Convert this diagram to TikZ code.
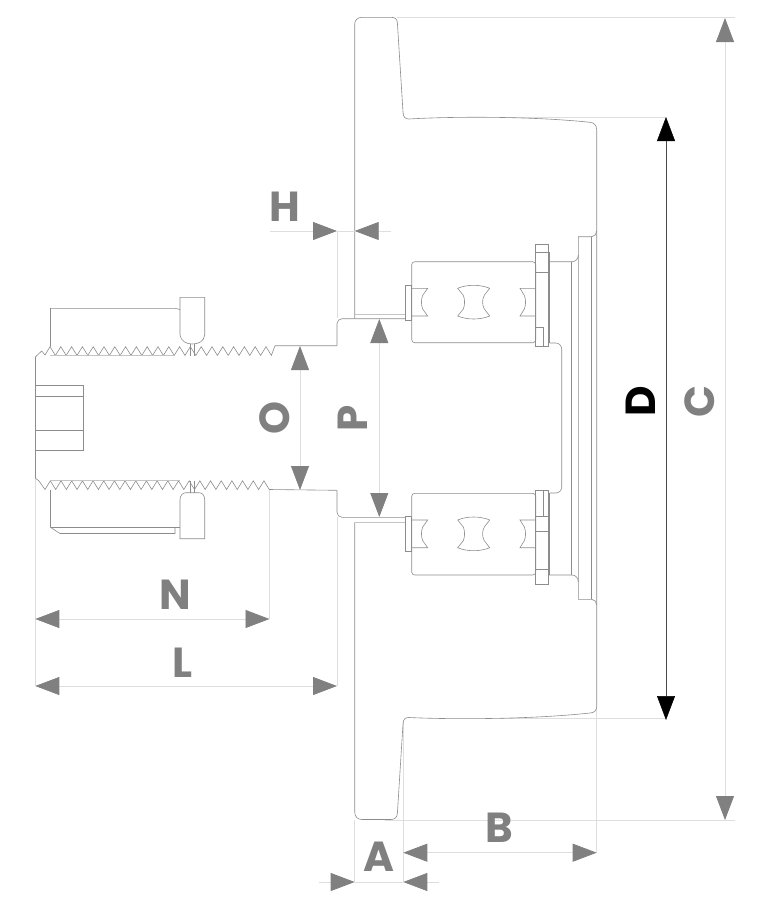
\documentclass[tikz,border=0pt]{standalone}
\usepackage{fontspec}
\setmainfont{Poppins}
\usetikzlibrary{arrows.meta}
\definecolor{dimgrey}{HTML}{808080}
\definecolor{extgrey}{HTML}{DEDEDE}
\definecolor{partgrey}{HTML}{8C8C8C}
\definecolor{softgrey}{HTML}{C4C4C4}
\tikzset{
  part/.style={draw=partgrey, line width=0.6pt},
  softpart/.style={draw=softgrey, line width=0.9pt},
  dimtip/.tip={Triangle[length=24pt,width=18pt,color=dimgrey]},
  blacktip/.tip={Triangle[length=24pt,width=18pt,color=black]},
  extline/.style={draw=extgrey, line width=0.8pt},
  dimline/.style={extline, dimtip-dimtip},
  sideline/.style={extline, -dimtip},
  dimlabel/.style={text=dimgrey, font=\fontsize{42}{42}\bfseries\selectfont, inner sep=0pt},
}
\newcommand{\racepair}[2]{% top and bottom y of the races
  \draw[part] (411.7,#1) -- (427.7,#1) -- (422.7,#1+7) .. controls (421,#1+11) and (421,#2-11) .. (422.7,#2-7) -- (427.7,#2) -- (411.7,#2);
  \draw[part] (535.7,#1) -- (520,#1) -- (524.3,#1+7) .. controls (526,#1+11) and (526,#2-11) .. (524.3,#2-7) -- (520,#2) -- (535.7,#2);
  \draw[part] (457.7,#1) .. controls (467,#1-4) and (480,#1-4) .. (489.7,#1)
    -- (484.3,#1+7) .. controls (482,#1+11) and (482,#2-11) .. (484.3,#2-7) -- (489.7,#2)
    .. controls (480,#2+4) and (467,#2+4) .. (457.7,#2)
    -- (463.3,#2-7) .. controls (465,#2-11) and (465,#1+11) .. (463.3,#1+7) -- cycle;
}
\begin{document}
\begin{tikzpicture}[x=1pt,y=-1pt]
  \useasboundingbox (0,0) rectangle (767,897);

  % Extension lines
  \draw[extline] (397,17) -- (735,17);
  \draw[extline] (500,117.5) -- (666,117.5);
  \draw[extline] (500,718.5) -- (666,718.5);
  \draw[extline] (385,820) -- (735,820);
  \draw[extline] (337,231) -- (337,318);
  \draw[extline] (337,517) -- (337,686);
  \draw[extline] (35,478) -- (35,686);
  \draw[extline] (269.3,490) -- (269.3,619);
  \draw[extline] (354.7,820) -- (354.7,882);
  \draw[extline] (403.3,722) -- (403.3,882);
  \draw[extline] (596.7,708) -- (596.7,852.7);

  % Flange and body
  \draw[part] (354.7,318.7) -- (354.7,24) .. controls (354.7,20) and (358,17.3) .. (362,17.3)
    -- (391,17.3) .. controls (395,17.3) and (397.2,19) .. (397.4,23)
    -- (403,112) .. controls (403.3,117) and (405,119) .. (409,119)
    .. controls (450,116.5) and (530,116) .. (590,122.3)
    .. controls (594,122.8) and (596.7,125) .. (596.7,130)
    -- (596.7,706) .. controls (596.7,711) and (594,712.7) .. (590,713)
    .. controls (530,719.5) and (450,719.5) .. (409,717.5)
    .. controls (405,717.5) and (403.3,719) .. (403,724)
    -- (397.4,813) .. controls (397.2,817) and (395,819.5) .. (391,819.5)
    -- (362,819.5) .. controls (358,819.5) and (354.7,817) .. (354.7,812)
    -- (354.7,522.3);

  % Plate at the right
  \draw[part] (596.7,231) .. controls (596.7,234) and (594.5,236.7) .. (591.7,236.7) -- (578.3,236.7) -- (578.3,599.3) -- (591.7,599.3) .. controls (594.5,599.3) and (596.7,602) .. (596.7,605);
  \draw[part] (591.7,236.7) -- (591.7,599.3);
  \draw[part] (571.7,262) -- (571.7,575);
  \draw[part] (548,261.7) -- (572,261.7) .. controls (575.5,261.7) and (578.3,259) .. (578.3,255);
  \draw[part] (548,575) -- (572,575) .. controls (575.5,575) and (578.3,578) .. (578.3,582);

  % Shaft
  \draw[part, rounded corners=6pt] (549.5,343) -- (561.7,343) -- (561.7,493) -- (549.5,493);
  \draw[part, rounded corners=5pt] (405,318.7) -- (337,318.7) -- (337,345.7);
  \draw[part, rounded corners=5pt] (405,517.3) -- (337,517.3) -- (337,490.3);
  \draw[softpart] (354.7,314.3) -- (405,314.3);
  \draw[softpart] (354.7,522.3) -- (405,522.3);

  % Thread
  \draw[part] (35.3,357) -- (41.7,351) -- (45,355) -- (50,346.7)
    \foreach \k in {0,...,19} { -- ++(5.4,8.7) -- ++(5.4,-8.7) }
    -- ++(5.4,8.7) -- (275,345.7) -- (337,345.7);
  \draw[part] (35.3,478) -- (39,481) -- (45,489.5)
    \foreach \k in {0,...,20} { -- ++(5.34,-8.7) -- ++(5.34,8.7) }
    -- (337,490.3);
  \draw[part] (35.3,357) -- (35.3,478);
  \draw[softpart] (50,355.5) -- (175,355.5);
  \draw[softpart] (50,480.7) -- (180,480.7);

  % Socket
  \draw[part] (35.3,385.7) rectangle (83.3,450);
  \draw[part] (35.3,396) -- (83.3,396);
  \draw[part] (35.3,430) -- (83.3,430);

  % Nut
  \draw[part] (50.5,346.7) -- (50.5,308.3) -- (175,308.3) -- (180,309.5);
  \draw[part] (50.5,490) -- (50.5,527.3) -- (60,533.5) -- (175,533.5) -- (175,527.3);
  \draw[part] (50.5,527.3) -- (180,527.3);
  \draw[part] (180,335) -- (180,297.3) -- (204.7,297.3) -- (204.7,335) .. controls (204,341) and (199,344) .. (192.3,344) .. controls (186,344) and (181,341) .. (180,335);
  \draw[part] (180,500) -- (180,538.7) -- (204.7,538.7) -- (204.7,500) .. controls (204.7,495) and (202,492.7) .. (199,492.7) -- (186,492.7) .. controls (183,492.7) and (180,495) .. (180,500);
  \foreach \xx in {190,194} {
    \draw[part] (\xx,344) -- (\xx,355.5);
    \draw[part] (\xx,480.7) -- (\xx,492.7);
  }

  % Upper bearing
  \draw[part, rounded corners=3pt] (411.7,261.7) rectangle (535.7,342.7);
  \draw[part] (405,285.3) rectangle (411.7,320);
  \racepair{288.3}{316}
  \draw[part] (535.7,244) rectangle (548,346);
  \draw[part] (535.7,252.3) -- (548,252.3);
  \draw[part] (535.7,272.7) -- (548,272.7);
  \draw[part] (535.7,327.3) -- (543.3,327.3) -- (543.3,346);
  \draw[part] (549.5,252) -- (549.5,343);

  % Lower bearing
  \draw[part, rounded corners=3pt] (411.7,493.3) rectangle (535.7,575);
  \draw[part] (405,516.7) rectangle (411.7,551);
  \racepair{520}{547.7}
  \draw[part] (535.7,490) rectangle (548,584);
  \draw[part] (535.7,490) -- (543.3,490) -- (543.3,516.7) -- (535.7,516.7);
  \draw[part] (535.7,516.7) -- (548,516.7);
  \draw[part] (535.7,531) -- (548,531);
  \draw[part] (535.7,569.3) -- (548,569.3);
  \draw[part] (549.5,493) -- (549.5,575);

  % Dimension points
  \coordinate (Dt) at (666,117);
  \coordinate (Db) at (666,720);
  \coordinate (Ct) at (725,18);
  \coordinate (Cb) at (725,820);
  \coordinate (Ot) at (300,346);
  \coordinate (Ob) at (300,490);
  \coordinate (Pt) at (379.3,319);
  \coordinate (Pb) at (379.3,517);
  \coordinate (Nl) at (35.3,619);
  \coordinate (Nr) at (269.5,619);
  \coordinate (Ll) at (35.3,686);
  \coordinate (Lr) at (337,686);
  \coordinate (Bl) at (403.3,852.7);
  \coordinate (Br) at (596.7,852.7);
  \coordinate (Al) at (354.7,882);
  \coordinate (Ar) at (403.3,882);
  \coordinate (Ao) at (319,882);
  \coordinate (Ae) at (439,882);
  \coordinate (Hl) at (337,231);
  \coordinate (Hr) at (354.7,231);
  \coordinate (Ho) at (270,231);
  \coordinate (He) at (391,231);

  % Dimension arrows
  \draw[draw=black!70, line width=0.5pt, blacktip-blacktip] (Dt) -- (Db);
  \draw[dimline] (Ct) -- (Cb);
  \draw[dimline] (Ot) -- (Ob);
  \draw[dimline] (Pt) -- (Pb);
  \draw[dimline] (Nl) -- (Nr);
  \draw[dimline] (Ll) -- (Lr);
  \draw[dimline] (Bl) -- (Br);
  \draw[extline] (Al) -- (Ar);
  \draw[sideline] (Ao) -- (Al);
  \draw[sideline] (Ae) -- (Ar);
  \draw[extline] (Hl) -- (Hr);
  \draw[sideline] (Ho) -- (Hl);
  \draw[sideline] (He) -- (Hr);

  % Labels
  \node[dimlabel] (labH) at (285,207) {H};
  \node[dimlabel, rotate=90] (labO) at (275,418) {O};
  \node[dimlabel, rotate=90] (labP) at (353,418) {P};
  \node[dimlabel, rotate=90, text=black] (labD) at (641,401) {D};
  \node[dimlabel, rotate=90] (labC) at (700,401) {C};
  \node[dimlabel] (labN) at (175,595) {N};
  \node[dimlabel] (labL) at (183,663) {L};
  \node[dimlabel] (labB) at (499,828) {B};
  \node[dimlabel] (labA) at (379,857) {A};
\end{tikzpicture}
\end{document}
